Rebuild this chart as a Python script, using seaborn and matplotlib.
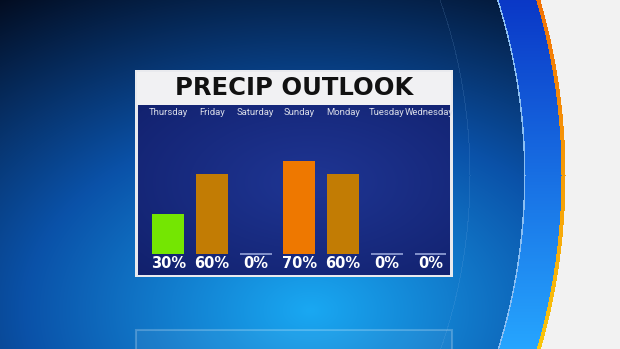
import numpy as np
import matplotlib
matplotlib.use("Agg")
import matplotlib.pyplot as plt
from matplotlib.patches import Rectangle
import seaborn as sns

# ---- data ----
days = ["Thursday", "Friday", "Saturday", "Sunday", "Monday", "Tuesday", "Wednesday"]
precip = [30, 60, 0, 70, 60, 0, 0]
bar_colors = ["#74e602", "#c27c04", "#c27c04", "#ee7800", "#c27c04", "#c27c04", "#c27c04"]
title = "PRECIP OUTLOOK"

W, H = 620, 349
sns.set_style("white")
plt.rcParams["font.family"] = ["DejaVu Sans"]

fig = plt.figure(figsize=(W / 100, H / 100), dpi=100)

# ---- background (broadcast-style gradient) ----
bg = fig.add_axes([0, 0, 1, 1])
yy, xx = np.mgrid[0:H, 0:W].astype(float)
d = np.sqrt(((xx - 310) / 1.5) ** 2 + ((yy - 310) / 1.0) ** 2)
t = np.clip(d / 380, 0, 1)
c0 = np.array([0.10, 0.66, 0.95])
c1 = np.array([0.04, 0.32, 0.66])
c2 = np.array([0.01, 0.04, 0.11])
t3 = t[..., None]
img = np.where(t3 < 0.5,
               c0 * (1 - t3 / 0.5) + c1 * (t3 / 0.5),
               c1 * (1 - (t3 - 0.5) / 0.5) + c2 * ((t3 - 0.5) / 0.5))

cx, cy, R = -60.0, 175.0, 625.0
r = np.sqrt((xx - cx) ** 2 + (yy - cy) ** 2)
fy = (yy / H)[..., None]
band_col = np.array([0.04, 0.22, 0.78]) * (1 - fy) + np.array([0.15, 0.65, 1.0]) * fy
orange_col = np.array([0.95, 0.45, 0.02]) * (1 - fy) + np.array([0.98, 0.78, 0.05]) * fy
white_col = np.array([0.95, 0.95, 0.95])
m_band = (r > R - 40) & (r <= R - 4)
m_or = (r > R - 4) & (r <= R)
m_white = r > R
m_line = (r > R - 41.5) & (r <= R - 40)
m_line2 = (r > R - 96) & (r <= R - 95)
img = np.where(m_line2[..., None], img * 0.85 + 0.15 * np.array([0.5, 0.7, 0.9]), img)
img = np.where(m_band[..., None], band_col, img)
img = np.where(m_line[..., None], np.array([0.55, 0.75, 0.95]), img)
img = np.where(m_or[..., None], orange_col, img)
img = np.where(m_white[..., None], white_col, img)
bg.imshow(img, extent=(0, W, H, 0), aspect="auto", interpolation="bilinear")
bg.set_xlim(0, W)
bg.set_ylim(H, 0)
bg.axis("off")

# panel frame + title band
bg.add_patch(Rectangle((135, 70), 318, 207, facecolor="#e9eaee", edgecolor="none", zorder=2))
bg.add_patch(Rectangle((137, 72), 314, 33, facecolor="#f1f1f3", edgecolor="none", zorder=2))
bg.text(294, 88, title, ha="center", va="center", fontsize=17.5, fontweight="bold",
        color="#111111", zorder=3)
# faint reflection
bg.add_patch(Rectangle((136, 330), 316, 30, facecolor=(1, 1, 1, 0.05),
                       edgecolor=(1, 1, 1, 0.22), linewidth=1.5, zorder=2))

# ---- chart panel ----
ax = fig.add_axes([138 / W, (H - 275) / H, 312 / W, 170 / H])
xmin, xmax = -0.693, 6.447
ymin, ymax = -15.8, 112.0
gy, gx = np.mgrid[0:60, 0:100] / np.array([60.0, 100.0])[:, None, None]
gd = np.sqrt((gx - 0.55) ** 2 + (gy - 0.45) ** 2)
gt = np.clip(gd / 0.75, 0, 1)
c_in = np.array([0.12, 0.21, 0.58])
c_out = np.array([0.07, 0.13, 0.43])
pimg = c_in[None, None, :] * (1 - gt[..., None]) + c_out[None, None, :] * gt[..., None]
ax.imshow(pimg, extent=(xmin, xmax, ymin, ymax), aspect="auto", zorder=0,
          interpolation="bilinear")

sns.barplot(x=days, y=precip, hue=days, palette=bar_colors, legend=False,
            width=0.73, saturation=1, ax=ax, zorder=2)
for p, v in zip(ax.patches, precip):
    if v == 0:
        p.set_edgecolor("#8c9bd2")
        p.set_linewidth(1.3)
    else:
        p.set_edgecolor("none")

for i, (dname, v) in enumerate(zip(days, precip)):
    ax.text(i - (0.04 if i == len(days) - 1 else 0), 106.0, dname, ha="center", va="center",
            fontsize=6.8, family=["Roboto", "DejaVu Sans"], color="#d9dce8", zorder=3)
    ax.text(i, -7.0, f"{v}%", ha="center", va="center", fontsize=10.5,
            fontweight="bold", color="white", zorder=3)

ax.set_xlim(xmin, xmax)
ax.set_ylim(ymin, ymax)
ax.set_xticks([])
ax.set_yticks([])
ax.set_xlabel("")
ax.set_ylabel("")
for s in ax.spines.values():
    s.set_visible(False)

fig.savefig("out.png", dpi=100)
